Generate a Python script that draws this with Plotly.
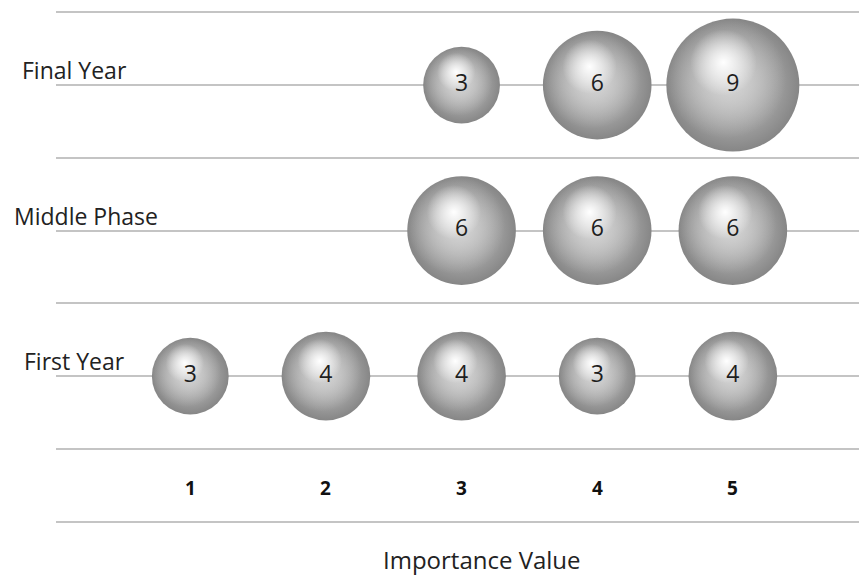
import plotly.graph_objects as go

# Survey data: importance value (1-5) per study stage, bubble size = count
stages = ["First Year", "Middle Phase", "Final Year"]
stage_pos = [1, 2, 3]
importance_ticks = [1, 2, 3, 4, 5]

first_year_x = [1, 2, 3, 4, 5]
first_year_counts = [3, 4, 4, 3, 4]
middle_phase_x = [3, 4, 5]
middle_phase_counts = [6, 6, 6]
final_year_x = [3, 4, 5]
final_year_counts = [3, 6, 9]

W, H = 859, 575
M = dict(l=56, r=0, t=8, b=49)
X_RANGE = [0.01, 5.93]
Y_RANGE = [-0.03, 3.53]
MAX_DIAM = 133.0
FONT = "'Open Sans', sans-serif"
# horizontal centre of each stage label, pixels from the plot's left edge
LABEL_SHIFT = [18, 30, 18]

xs, ys, vals = [], [], []
for px, cnt, yv in [(first_year_x, first_year_counts, 1),
                    (middle_phase_x, middle_phase_counts, 2),
                    (final_year_x, final_year_counts, 3)]:
    xs += px
    ys += [yv] * len(px)
    vals += cnt

vmax = max(vals)
sizeref = 2.0 * vmax / MAX_DIAM ** 2

# pixel scale used to nudge the shading layers in data units
px_per_x = (W - M["l"] - M["r"]) / (X_RANGE[1] - X_RANGE[0])
px_per_y = (H - M["t"] - M["b"]) / (Y_RANGE[1] - Y_RANGE[0])
radii = [MAX_DIAM / 2 * (v / vmax) ** 0.5 for v in vals]


def shade_layer(scale, dx, dy, rim, centre):
    """Radial-gradient disc (rim colour -> centre colour), offset by (dx, dy) radii."""
    return go.Scatter(
        x=[x + dx * r / px_per_x for x, r in zip(xs, radii)],
        y=[y + dy * r / px_per_y for y, r in zip(ys, radii)],
        mode="markers",
        marker=dict(size=[v * scale ** 2 for v in vals], sizemode="area",
                    sizeref=sizeref, color=rim, opacity=1, line=dict(width=0),
                    gradient=dict(type="radial", color=centre)),
        hoverinfo="skip", showlegend=False)


fig = go.Figure()
# sphere body, darkening toward the rim
fig.add_trace(shade_layer(1.0, 0, 0, "#868686", "#d0d0d0"))
# lit area, pulled up and left
fig.add_trace(shade_layer(0.9, -0.1, 0.1, "rgba(200,200,200,0)", "rgba(212,212,212,1)"))
# specular highlight
fig.add_trace(shade_layer(0.5, -0.14, 0.34, "rgba(255,255,255,0)", "rgba(255,255,255,1)"))

# count labels
fig.add_trace(go.Scatter(
    x=xs, y=ys, mode="text", text=[str(v) for v in vals],
    textposition="middle center",
    textfont=dict(family=FONT, size=23, color="#1e1e1e"),
    hoverinfo="skip", showlegend=False))

annotations = []
for name, yv, sh in zip(stages, stage_pos, LABEL_SHIFT):
    annotations.append(dict(
        x=0.0, xref="paper", y=yv, yref="y", text=name, showarrow=False,
        xanchor="center", yanchor="middle", xshift=sh, yshift=15,
        font=dict(family=FONT, size=23, color="#222222")))
for t in importance_ticks:
    annotations.append(dict(
        x=t, xref="x", y=0.23, yref="y", text=f"<b>{t}</b>", showarrow=False,
        xanchor="center", yanchor="middle",
        font=dict(family=FONT, size=19, color="#111111")))
annotations.append(dict(
    x=(3.15 - X_RANGE[0]) / (X_RANGE[1] - X_RANGE[0]), xref="paper",
    y=-0.064, yref="paper", text="Importance Value", showarrow=False,
    xanchor="center", yanchor="middle",
    font=dict(family=FONT, size=24, color="#222222")))

fig.update_layout(
    width=W, height=H, margin=M,
    paper_bgcolor="white", plot_bgcolor="white",
    annotations=annotations,
    xaxis=dict(range=X_RANGE, showgrid=False, zeroline=False,
               showticklabels=False, ticks="", showline=False),
    yaxis=dict(range=Y_RANGE, showgrid=True, gridcolor="#c4c4c4", gridwidth=2,
               dtick=0.5, tick0=0, zeroline=False, showticklabels=False,
               ticks="", showline=False),
)

fig.write_html("out.html")
